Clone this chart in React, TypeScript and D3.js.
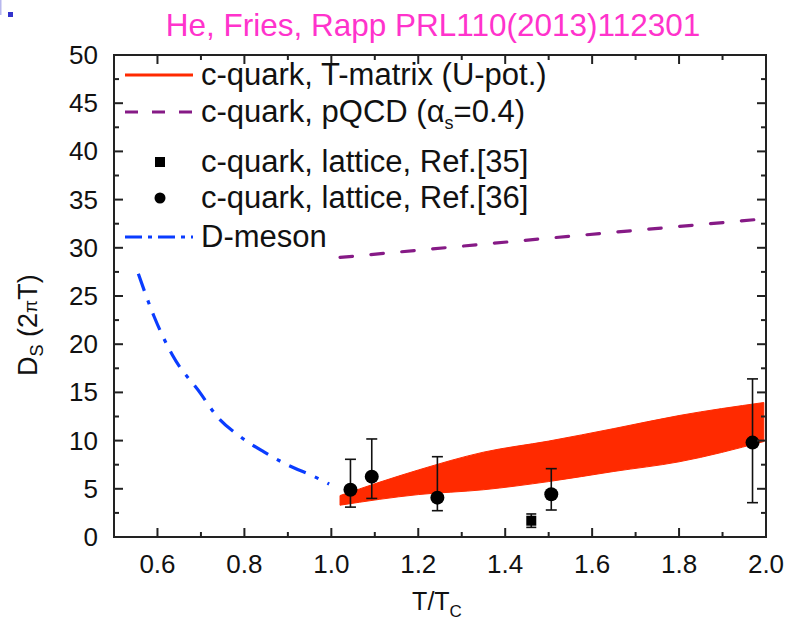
import React from 'react';
import * as d3 from 'd3';

// T-matrix band (c-quark, U-potential)
const bandT = [1.02, 1.2, 1.35, 1.5, 1.65, 1.8, 1.995];
const bandUpper = [4.3, 6.95, 8.8, 9.95, 11.25, 12.6, 13.95];
const bandLower = [3.3, 4.4, 4.9, 5.75, 6.8, 7.8, 9.9];

// pQCD (alpha_s = 0.4)
const pqcdT = [1.02, 1.5, 1.995];
const pqcdD = [29.0, 31.0, 33.0];

// D-meson
const dmesT = [0.556, 0.592, 0.634, 0.699, 0.737, 0.791, 0.844, 0.898, 0.959, 0.995];
const dmesD = [27.3, 22.9, 18.9, 14.9, 12.5, 10.4, 8.85, 7.5, 6.3, 5.5];

// lattice Ref.[36] (circles)
const lat36T = [1.044, 1.093, 1.244, 1.506, 1.969];
const lat36D = [4.9, 6.26, 4.08, 4.43, 9.79];
const lat36Hi = [8.06, 10.17, 8.33, 7.09, 16.4];
const lat36Lo = [3.1, 4.0, 2.73, 2.8, 3.56];

// lattice Ref.[35] (square)
const lat35T = [1.46];
const lat35D = [1.69];
const lat35Hi = [2.39];
const lat35Lo = [1.0];

const xTicks = [0.6, 0.8, 1.0, 1.2, 1.4, 1.6, 1.8, 2.0];
const yTicks = [0, 5, 10, 15, 20, 25, 30, 35, 40, 45, 50];

const RED = '#ff2a00';
const PURPLE = '#861a86';
const BLUE = '#0a3cff';
const FONT = '"Liberation Sans", Arial, sans-serif';

export default function App() {
  const W = 791, H = 621;
  const left = 114, right = 766, top = 55, bottom = 537;
  const x = d3.scaleLinear().domain([0.5, 2.0]).range([left, right]);
  const y = d3.scaleLinear().domain([0, 50]).range([bottom, top]);

  const band = d3.area<number>()
    .x((_, i) => x(bandT[i]))
    .y0((_, i) => y(bandLower[i]))
    .y1((_, i) => y(bandUpper[i]))
    .curve(d3.curveMonotoneX);

  const pqcdLine = d3.line<number>()
    .x((_, i) => x(pqcdT[i]))
    .y((d) => y(d));

  const dmesLine = d3.line<number>()
    .x((_, i) => x(dmesT[i]))
    .y((d) => y(d))
    .curve(d3.curveMonotoneX);

  const xMinor = d3.range(0.5, 2.001, 0.1).filter(v => !xTicks.some(t => Math.abs(t - v) < 1e-6));
  const yMinor = d3.range(2.5, 50, 5);

  const legendX1 = 125, legendX2 = 193, textX = 201;
  const rows = [75, 112, 162, 198, 237];

  return (
    <svg width={W} height={H} style={{ position: 'absolute', left: 0, top: 0, background: '#fff' }}
      fontFamily={FONT}>
      <rect x={0} y={0} width={W} height={H} fill="#fff" />
      {/* cropped marks top-left */}
      <rect x={0} y={0} width={1.5} height={15} fill="#b8b8ee" />
      <rect x={8} y={12} width={5} height={5} fill="#3333cc" />

      <text x={433} y={36} textAnchor="middle" fontSize={31.5} fill="#ff33cc">
        He, Fries, Rapp PRL110(2013)112301
      </text>

      {/* band */}
      <path d={band(bandT) || ''} fill={RED} stroke={RED} strokeWidth={1} strokeLinejoin="round" />

      {/* pQCD */}
      <path d={pqcdLine(pqcdD) || ''} fill="none" stroke={PURPLE} strokeWidth={3.2}
        strokeDasharray="12.5,18.5" strokeLinecap="round" />

      {/* D-meson */}
      <path d={dmesLine(dmesD) || ''} fill="none" stroke={BLUE} strokeWidth={3.2}
        strokeDasharray="18,10,4,10" />

      {/* lattice 36 */}
      {lat36T.map((t, i) => (
        <g key={'c' + i} stroke="#111" strokeWidth={1.6}>
          <line x1={x(t)} x2={x(t)} y1={y(lat36Hi[i])} y2={y(lat36Lo[i])} />
          <line x1={x(t) - 5.5} x2={x(t) + 5.5} y1={y(lat36Hi[i])} y2={y(lat36Hi[i])} />
          <line x1={x(t) - 5.5} x2={x(t) + 5.5} y1={y(lat36Lo[i])} y2={y(lat36Lo[i])} />
          <circle cx={x(t)} cy={y(lat36D[i])} r={7} fill="#000" stroke="none" />
        </g>
      ))}
      {/* lattice 35 */}
      {lat35T.map((t, i) => (
        <g key={'s' + i} stroke="#111" strokeWidth={1.6}>
          <line x1={x(t)} x2={x(t)} y1={y(lat35Hi[i])} y2={y(lat35Lo[i])} />
          <line x1={x(t) - 5} x2={x(t) + 5} y1={y(lat35Hi[i])} y2={y(lat35Hi[i])} />
          <line x1={x(t) - 5} x2={x(t) + 5} y1={y(lat35Lo[i])} y2={y(lat35Lo[i])} />
          <rect x={x(t) - 5} y={y(lat35D[i]) - 5} width={10} height={10} fill="#000" stroke="none" />
        </g>
      ))}

      {/* frame and ticks */}
      <g stroke="#222" strokeWidth={2}>
        <rect x={left} y={top} width={right - left} height={bottom - top} fill="none" />
        {xTicks.map(t => (
          <g key={'xt' + t}>
            <line x1={x(t)} x2={x(t)} y1={bottom} y2={bottom - 9} />
            <line x1={x(t)} x2={x(t)} y1={top} y2={top + 9} />
          </g>
        ))}
        {xMinor.map(t => (
          <g key={'xm' + t}>
            <line x1={x(t)} x2={x(t)} y1={bottom} y2={bottom - 5} />
            <line x1={x(t)} x2={x(t)} y1={top} y2={top + 5} />
          </g>
        ))}
        {yTicks.map(t => (
          <g key={'yt' + t}>
            <line x1={left} x2={left + 9} y1={y(t)} y2={y(t)} />
            <line x1={right} x2={right - 9} y1={y(t)} y2={y(t)} />
          </g>
        ))}
        {yMinor.map(t => (
          <g key={'ym' + t}>
            <line x1={left} x2={left + 5} y1={y(t)} y2={y(t)} />
            <line x1={right} x2={right - 5} y1={y(t)} y2={y(t)} />
          </g>
        ))}
      </g>

      {/* tick labels */}
      <g fontSize={26} fill="#111">
        {xTicks.map(t => (
          <text key={'xl' + t} x={x(t)} y={573} textAnchor="middle">{t.toFixed(1)}</text>
        ))}
        {yTicks.map(t => (
          <text key={'yl' + t} x={98} y={y(t) + 9} textAnchor="end">{t}</text>
        ))}
      </g>

      {/* axis titles */}
      <text x={437} y={610} textAnchor="middle" fontSize={25} fill="#111">
        T/T<tspan fontSize={17} dy={7}>C</tspan>
      </text>
      <text transform="translate(37,376) rotate(-90)" fontSize={27} fill="#111">
        D<tspan fontSize={18} dy={6}>S</tspan><tspan dy={-6}> (2</tspan><tspan fontSize={19}>π</tspan>T)
      </text>

      {/* legend */}
      <g fontSize={31} fill="#111">
        <line x1={legendX1} x2={legendX2} y1={rows[0]} y2={rows[0]} stroke={RED} strokeWidth={3} />
        <text x={textX} y={rows[0] + 10}>c-quark, T-matrix (U-pot.)</text>

        <line x1={legendX1} x2={legendX2} y1={rows[1]} y2={rows[1]} stroke={PURPLE} strokeWidth={3.2}
          strokeDasharray="13,14" />
        <text x={textX} y={rows[1] + 10}>
          c-quark, pQCD (α<tspan fontSize={18} dy={7}>s</tspan><tspan dy={-7}>=0.4)</tspan>
        </text>

        <rect x={155} y={rows[2] - 5} width={10} height={10} fill="#000" />
        <text x={textX} y={rows[2] + 10}>c-quark, lattice, Ref.[35]</text>

        <circle cx={160} cy={rows[3]} r={5.5} fill="#000" />
        <text x={textX} y={rows[3] + 10}>c-quark, lattice, Ref.[36]</text>

        <line x1={legendX1} x2={legendX2} y1={rows[4]} y2={rows[4]} stroke={BLUE} strokeWidth={3.2}
          strokeDasharray="17,6,4,6" />
        <text x={textX} y={rows[4] + 10}>D-meson</text>
      </g>
    </svg>
  );
}
